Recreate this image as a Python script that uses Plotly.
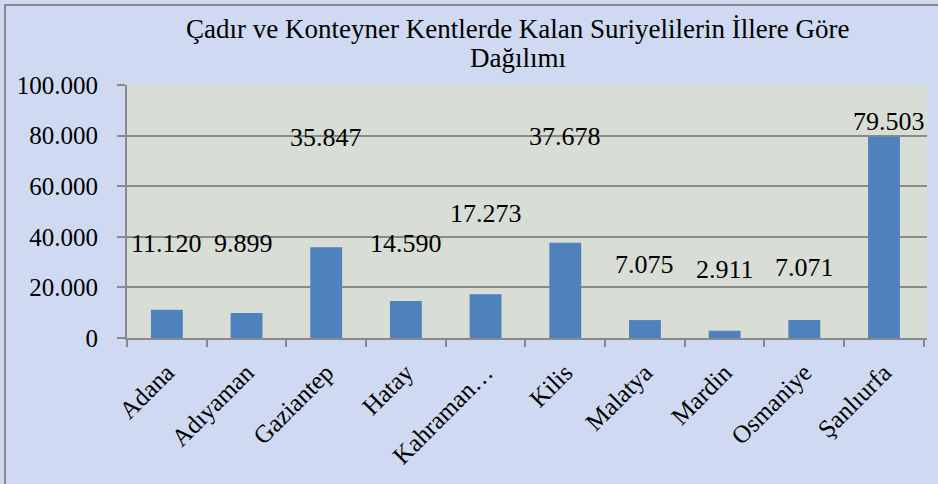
import plotly.graph_objects as go

categories = ["Adana", "Adıyaman", "Gaziantep", "Hatay", "Kahraman…", "Kilis",
              "Malatya", "Mardin", "Osmaniye", "Şanlıurfa"]
values = [11120, 9899, 35847, 14590, 17273, 37678, 7075, 2911, 7071, 79503]
value_labels = ["11.120", "9.899", "35.847", "14.590", "17.273", "37.678",
                "7.075", "2.911", "7.071", "79.503"]
tick_vals = [0, 20000, 40000, 60000, 80000, 100000]
tick_text = ["0", "20.000", "40.000", "60.000", "80.000", "100.000"]
title_lines = ["Çadır ve Konteyner Kentlerde Kalan Suriyelilerin İllere Göre", "Dağılımı"]

# where the data labels sit (value-axis units) and their small horizontal nudges (px), as in the source
label_y = [37200, 37200, 79400, 37400, 49400, 79800, 28900, 27000, 27700, 85400]
label_dx = [0, -3, 0, 0, 0, 0, 0, 0, 0, 5]

FONT = "Liberation Serif"

fig = go.Figure()
fig.add_trace(go.Bar(x=categories, y=values, marker=dict(color="#4F81BD", line=dict(width=0)),
                     hoverinfo="x+y"))

for c, t, ly, dx in zip(categories, value_labels, label_y, label_dx):
    fig.add_annotation(x=c, y=ly, text=t, showarrow=False, xref="x", yref="y", xshift=dx,
                       font=dict(family=FONT, size=26, color="black"))

W, H = 938, 484
ml, mr, mt, mb = 127, 11, 85, 146
pw, ph = W - ml - mr, H - mt - mb
def px(x): return (x - ml) / pw
def py(y): return (H - mb - y) / ph

for line, ypix in zip(title_lines, [29, 58]):
    fig.add_annotation(x=px(518), y=py(ypix), xref="paper", yref="paper", text=line,
                       showarrow=False, xanchor="center", yanchor="middle",
                       font=dict(family=FONT, size=27, color="black"))

fig.add_shape(type="rect", xref="paper", yref="paper",
              x0=px(5), x1=px(940), y0=py(5), y1=py(490),
              line=dict(color="#8a8a8a", width=2), fillcolor="rgba(0,0,0,0)", layer="below")

fig.update_layout(
    width=W, height=H,
    margin=dict(l=ml, r=mr, t=mt, b=mb, autoexpand=False),
    paper_bgcolor="#cfd9f1",
    plot_bgcolor="#d8ddd6",
    showlegend=False,
    bargap=0.6,
    font=dict(family=FONT, size=25, color="black"),
)
fig.update_xaxes(tickangle=-45, tickfont=dict(family=FONT, size=25, color="black"),
                 showline=True, linecolor="#8a8a8a", linewidth=2, automargin=False,
                 ticks="outside", tickson="boundaries", ticklen=7, tickcolor="#8a8a8a", tickwidth=2,
                 ticklabelstandoff=8, showgrid=False)
fig.update_yaxes(range=[0, 100000], tickvals=tick_vals, ticktext=tick_text, automargin=False,
                 tickfont=dict(family=FONT, size=25, color="black"),
                 showline=True, linecolor="#8a8a8a", linewidth=2,
                 ticks="outside", ticklen=8, tickcolor="#8a8a8a", tickwidth=2,
                 ticklabelstandoff=14,
                 showgrid=True, gridcolor="#8a8a8a", gridwidth=2, zeroline=False)

fig.write_html("out.html", config={"displayModeBar": False},
               post_script="document.body.style.margin='0';document.body.style.overflow='hidden';")
